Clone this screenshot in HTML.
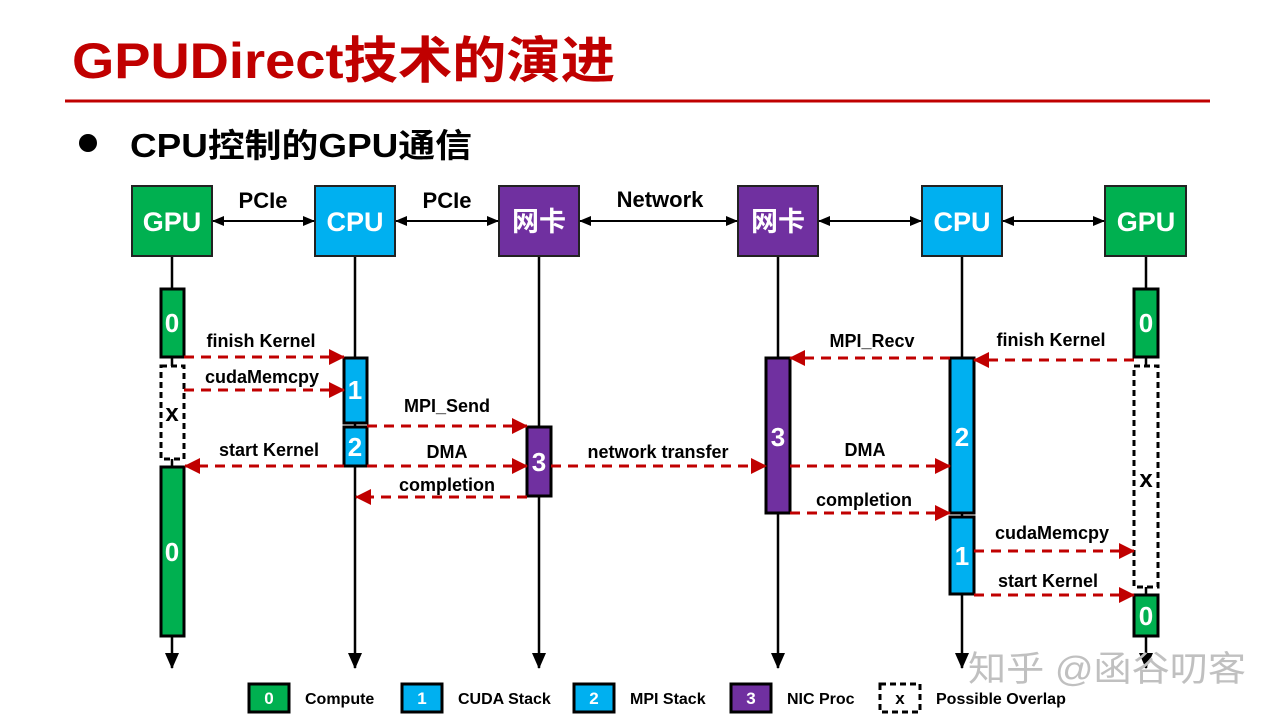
<!DOCTYPE html>
<html><head><meta charset="utf-8"><style>
body{margin:0;background:#fff;}
svg{display:block;font-family:"Liberation Sans","Noto Sans CJK SC",sans-serif;font-weight:bold;}
</style></head><body>
<svg width="1280" height="720" viewBox="0 0 1280 720" xmlns="http://www.w3.org/2000/svg">
<defs>
<marker id="rr" markerWidth="16" markerHeight="16" refX="15" refY="8" orient="auto-start-reverse" markerUnits="userSpaceOnUse"><path d="M0,0 L16,8 L0,16 z" fill="#c00000"/></marker>
<marker id="k" markerWidth="12" markerHeight="12" refX="11" refY="6" orient="auto-start-reverse" markerUnits="userSpaceOnUse"><path d="M0,1 L12,6 L0,11 z" fill="#000"/></marker>
<marker id="kb" markerWidth="16" markerHeight="16" refX="15" refY="8" orient="auto" markerUnits="userSpaceOnUse"><path d="M0,1 L16,8 L0,15 z" fill="#000"/></marker>
</defs>
<text x="72" y="78" font-size="50" fill="#c00000" textLength="543" lengthAdjust="spacingAndGlyphs">GPUDirect技术的演进</text>
<line x1="65" y1="101" x2="1210" y2="101" stroke="#c00000" stroke-width="3"/>
<circle cx="88" cy="143" r="9" fill="#000"/>
<text x="130" y="157" font-size="33" fill="#000" textLength="342" lengthAdjust="spacingAndGlyphs">CPU控制的GPU通信</text>

<g stroke="#000" stroke-width="2.5" marker-end="url(#kb)">
<line x1="172" y1="256" x2="172" y2="668"/>
<line x1="355" y1="256" x2="355" y2="668"/>
<line x1="539" y1="256" x2="539" y2="668"/>
<line x1="778" y1="256" x2="778" y2="668"/>
<line x1="962" y1="256" x2="962" y2="668"/>
<line x1="1146" y1="256" x2="1146" y2="668"/>
</g>
<g stroke="#222" stroke-width="2">
<rect x="132" y="186" width="80" height="70" fill="#00b050"/>
<rect x="315" y="186" width="80" height="70" fill="#00b0f0"/>
<rect x="499" y="186" width="80" height="70" fill="#7030a0"/>
<rect x="738" y="186" width="80" height="70" fill="#7030a0"/>
<rect x="922" y="186" width="80" height="70" fill="#00b0f0"/>
<rect x="1105" y="186" width="81" height="70" fill="#00b050"/>
</g>
<g fill="#fff" font-size="27" text-anchor="middle">
<text x="172" y="231">GPU</text><text x="355" y="231">CPU</text><text x="539" y="231">网卡</text>
<text x="778" y="231">网卡</text><text x="962" y="231">CPU</text><text x="1146" y="231">GPU</text>
</g>
<g stroke="#000" stroke-width="2" marker-start="url(#k)" marker-end="url(#k)">
<line x1="213" y1="221" x2="314" y2="221"/>
<line x1="396" y1="221" x2="498" y2="221"/>
<line x1="580" y1="221" x2="737" y2="221"/>
<line x1="819" y1="221" x2="921" y2="221"/>
<line x1="1003" y1="221" x2="1104" y2="221"/>
</g>
<g font-size="22" text-anchor="middle" fill="#000">
<text x="263" y="208">PCIe</text><text x="447" y="208">PCIe</text><text x="660" y="207">Network</text>
</g>

<g stroke="#000" stroke-width="3">
<rect x="161" y="289" width="23" height="68" fill="#00b050"/>
<rect x="161" y="366" width="23" height="93" fill="#fff" stroke-dasharray="6,4"/>
<rect x="161" y="467" width="23" height="169" fill="#00b050"/>
<rect x="344" y="358" width="23" height="65" fill="#00b0f0"/>
<rect x="344" y="427" width="23" height="39" fill="#00b0f0"/>
<rect x="527" y="427" width="24" height="69" fill="#7030a0"/>
<rect x="766" y="358" width="24" height="155" fill="#7030a0"/>
<rect x="950" y="358" width="24" height="155" fill="#00b0f0"/>
<rect x="950" y="517" width="24" height="77" fill="#00b0f0"/>
<rect x="1134" y="289" width="24" height="68" fill="#00b050"/>
<rect x="1134" y="366" width="24" height="221" fill="#fff" stroke-dasharray="6,4"/>
<rect x="1134" y="595" width="24" height="41" fill="#00b050"/>
</g>
<g font-size="26" text-anchor="middle" fill="#fff">
<text x="172" y="332">0</text><text x="172" y="561">0</text>
<text x="355" y="399">1</text><text x="355" y="456">2</text>
<text x="539" y="471">3</text><text x="778" y="446">3</text>
<text x="962" y="446">2</text><text x="962" y="565">1</text>
<text x="1146" y="332">0</text><text x="1146" y="625">0</text>
</g>
<g font-size="24" text-anchor="middle" fill="#000">
<text x="172" y="421">x</text><text x="1146" y="487">x</text>
</g>

<g stroke="#c00000" stroke-width="3" stroke-dasharray="10,7" fill="none" marker-end="url(#rr)">
<line x1="184" y1="357" x2="344" y2="357"/>
<line x1="184" y1="390" x2="344" y2="390"/>
<line x1="367" y1="426" x2="527" y2="426"/>
<line x1="344" y1="466" x2="185" y2="466"/>
<line x1="367" y1="466" x2="527" y2="466"/>
<line x1="527" y1="497" x2="356" y2="497"/>
<line x1="551" y1="466" x2="766" y2="466"/>
<line x1="950" y1="358" x2="790" y2="358"/>
<line x1="1134" y1="360" x2="974" y2="360"/>
<line x1="790" y1="466" x2="950" y2="466"/>
<line x1="790" y1="513" x2="950" y2="513"/>
<line x1="974" y1="551" x2="1134" y2="551"/>
<line x1="974" y1="595" x2="1134" y2="595"/>
</g>
<g font-size="18" text-anchor="middle" fill="#000">
<text x="261" y="347">finish Kernel</text>
<text x="262" y="383">cudaMemcpy</text>
<text x="447" y="412">MPI_Send</text>
<text x="269" y="456">start Kernel</text>
<text x="447" y="458">DMA</text>
<text x="447" y="491">completion</text>
<text x="658" y="458">network transfer</text>
<text x="872" y="347">MPI_Recv</text>
<text x="1051" y="346">finish Kernel</text>
<text x="865" y="456">DMA</text>
<text x="864" y="506">completion</text>
<text x="1052" y="539">cudaMemcpy</text>
<text x="1048" y="587">start Kernel</text>
</g>

<g stroke="#000" stroke-width="3">
<rect x="249" y="684" width="40" height="28" fill="#00b050"/>
<rect x="402" y="684" width="40" height="28" fill="#00b0f0"/>
<rect x="574" y="684" width="40" height="28" fill="#00b0f0"/>
<rect x="731" y="684" width="40" height="28" fill="#7030a0"/>
<rect x="880" y="684" width="40" height="28" fill="#fff" stroke-dasharray="6,4"/>
</g>
<g font-size="17" text-anchor="middle" fill="#fff">
<text x="269" y="704">0</text><text x="422" y="704">1</text><text x="594" y="704">2</text><text x="751" y="704">3</text>
<text x="900" y="704" fill="#000">x</text>
</g>
<g font-size="16" fill="#000">
<text x="305" y="704">Compute</text><text x="458" y="704">CUDA Stack</text>
<text x="630" y="704">MPI Stack</text><text x="787" y="704">NIC Proc</text>
<text x="936" y="704">Possible Overlap</text>
</g>
<text x="968" y="681" font-size="35" font-weight="normal" fill="#c0c0c0" textLength="278" lengthAdjust="spacingAndGlyphs">知乎 @函谷叨客</text>
</svg>
</body></html>
